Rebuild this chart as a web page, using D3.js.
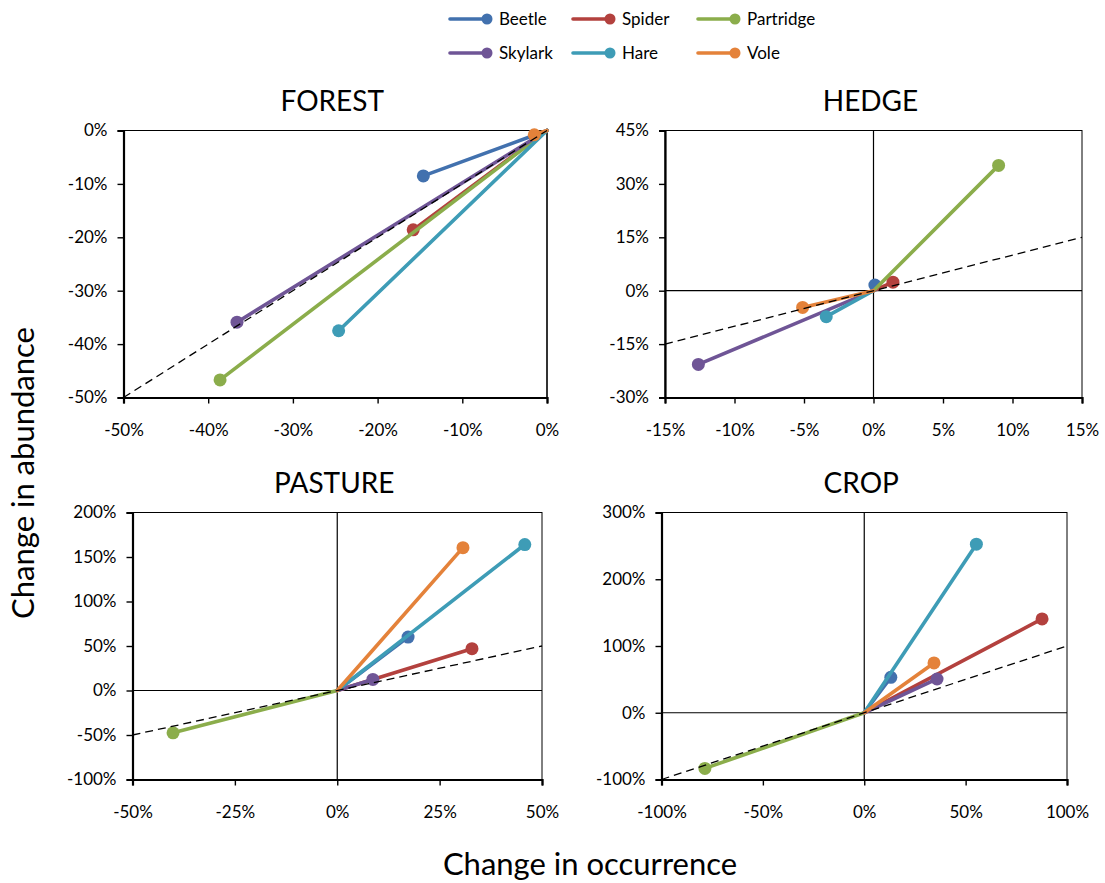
<!DOCTYPE html>
<html>
<head>
<meta charset="utf-8">
<script src="https://cdn.jsdelivr.net/npm/d3@7"></script>
<style>
  body { margin: 0; background: #fff; }
  svg { display: block; font-family: Lato, "Open Sans", sans-serif; }
</style>
</head>
<body>
<svg id="chart" width="1105" height="883"></svg>
<script>
// Species and their colours (series order = drawing order)
const species = ["Beetle", "Spider", "Partridge", "Skylark", "Hare", "Vole"];
const speciesColors = ["#4271AE", "#B3413E", "#8BAD4B", "#6F5596", "#3E9CB6", "#E4823A"];

// Change in occurrence (x, %) and change in abundance (y, %) per habitat
const forestOccurrence = [-14.6, -15.8, -38.6, -36.6, -24.6, -1.5];
const forestAbundance  = [-8.5, -18.6, -46.7, -35.9, -37.5, -0.8];

const hedgeOccurrence = [0.1, 1.4, 9.0, -12.6, -3.4, -5.1];
const hedgeAbundance  = [1.6, 2.4, 35.2, -20.7, -7.3, -4.7];

const pastureOccurrence = [17.3, 32.9, -40.1, 8.7, 45.8, 30.7];
const pastureAbundance  = [60, 47, -47.6, 12.4, 164, 160.5];

const cropOccurrence = [13.1, 87.7, -78.6, 35.9, 55.3, 34.4];
const cropAbundance  = [53, 140.5, -83.4, 50.6, 252.5, 74.6];

// Tick values
const forestXTicks = [-50, -40, -30, -20, -10, 0];
const forestYTicks = [-50, -40, -30, -20, -10, 0];
const hedgeXTicks = [-15, -10, -5, 0, 5, 10, 15];
const hedgeYTicks = [-30, -15, 0, 15, 30, 45];
const pastureXTicks = [-50, -25, 0, 25, 50];
const pastureYTicks = [-100, -50, 0, 50, 100, 150, 200];
const cropXTicks = [-100, -50, 0, 50, 100];
const cropYTicks = [-100, 0, 100, 200, 300];

const svg = d3.select("#chart");

// Panel layout (plot-area boxes)
const panels = [
  { title: "FOREST",  occ: forestOccurrence,  abund: forestAbundance,  xTicks: forestXTicks,  yTicks: forestYTicks,
    left: 123.5, right: 547, top: 130.5, bottom: 397.5 },
  { title: "HEDGE",   occ: hedgeOccurrence,   abund: hedgeAbundance,   xTicks: hedgeXTicks,   yTicks: hedgeYTicks,
    left: 665, right: 1082, top: 130.5, bottom: 397.5 },
  { title: "PASTURE", occ: pastureOccurrence, abund: pastureAbundance, xTicks: pastureXTicks, yTicks: pastureYTicks,
    left: 132.5, right: 542, top: 512.5, bottom: 779.5 },
  { title: "CROP",    occ: cropOccurrence,    abund: cropAbundance,    xTicks: cropXTicks,    yTicks: cropYTicks,
    left: 661.5, right: 1067, top: 512.5, bottom: 779.5 }
];

const pct = d => d + "%";

function drawPanel(p) {
  const xDomain = d3.extent(p.xTicks);
  const yDomain = d3.extent(p.yTicks);
  const x = d3.scaleLinear().domain(xDomain).range([p.left, p.right]);
  const y = d3.scaleLinear().domain(yDomain).range([p.bottom, p.top]);
  const g = svg.append("g");

  // plot-area frame
  g.append("rect")
    .attr("x", p.left).attr("y", p.top)
    .attr("width", p.right - p.left).attr("height", p.bottom - p.top)
    .attr("fill", "none").attr("stroke", "#000").attr("stroke-width", 1);

  // zero reference lines
  g.append("line")
    .attr("x1", x(0)).attr("x2", x(0)).attr("y1", p.top).attr("y2", p.bottom)
    .attr("stroke", "#000").attr("stroke-width", 1.2);
  g.append("line")
    .attr("x1", p.left).attr("x2", p.right).attr("y1", y(0)).attr("y2", y(0))
    .attr("stroke", "#000").attr("stroke-width", 1.2);

  // axes
  const xAxis = g.append("g")
    .attr("transform", `translate(0,${p.bottom})`)
    .call(d3.axisBottom(x).tickValues(p.xTicks).tickFormat(pct).tickSizeOuter(0).tickSize(6).tickPadding(20));
  const yAxis = g.append("g")
    .attr("transform", `translate(${p.left},0)`)
    .call(d3.axisLeft(y).tickValues(p.yTicks).tickFormat(pct).tickSizeOuter(0).tickSize(6).tickPadding(10));
  [xAxis, yAxis].forEach(a => {
    a.select(".domain").attr("stroke", "#000").attr("stroke-width", 2.2);
    a.selectAll(".tick line").attr("stroke", "#000").attr("stroke-width", 1.4);
    a.selectAll(".tick text").attr("fill", "#000").style("font-size", "17px").style("font-family", "Lato, sans-serif");
  });

  // species trajectories from the origin
  const line = d3.line().x(d => x(d[0])).y(d => y(d[1]));
  species.forEach((s, i) => {
    const pts = [[0, 0], [p.occ[i], p.abund[i]]];
    g.append("path")
      .attr("d", line(pts))
      .attr("fill", "none")
      .attr("stroke", speciesColors[i])
      .attr("stroke-width", 3.6)
      .attr("stroke-linecap", "round");
    g.append("circle")
      .attr("cx", x(p.occ[i])).attr("cy", y(p.abund[i]))
      .attr("r", 6.5)
      .attr("fill", speciesColors[i]);
  });

  // 1:1 dashed line
  const lo = Math.max(xDomain[0], yDomain[0]);
  const hi = Math.min(xDomain[1], yDomain[1]);
  g.append("path")
    .attr("d", line([[lo, lo], [hi, hi]]))
    .attr("fill", "none")
    .attr("stroke", "#000")
    .attr("stroke-width", 1.3)
    .attr("stroke-dasharray", "8,5");

  // panel title
  g.append("text")
    .attr("x", (p.left + p.right) / 2 - 3)
    .attr("y", p.top - 20)
    .attr("text-anchor", "middle")
    .style("font-size", "28px")
    .attr("fill", "#000")
    .text(p.title);
}

panels.forEach(drawPanel);

// legend (two rows of three)
const legendCols = [450, 573, 698];
const legendRows = [19, 53];
species.forEach((s, i) => {
  const lx = legendCols[i % 3];
  const ly = legendRows[Math.floor(i / 3)];
  const lg = svg.append("g").attr("transform", `translate(${lx},${ly})`);
  lg.append("line").attr("x1", 0).attr("x2", 37).attr("y1", 0).attr("y2", 0)
    .attr("stroke", speciesColors[i]).attr("stroke-width", 3.6).attr("stroke-linecap", "round");
  lg.append("circle").attr("cx", 37).attr("cy", 0).attr("r", 5.5).attr("fill", speciesColors[i]);
  lg.append("text").attr("x", 49).attr("y", 0).attr("dy", "0.35em")
    .style("font-size", "17px").attr("fill", "#000").text(s);
});

// shared axis titles
svg.append("text")
  .attr("transform", "translate(23,473) rotate(-90)")
  .attr("text-anchor", "middle").attr("dy", "0.35em")
  .style("font-size", "31px").attr("fill", "#000")
  .text("Change in abundance");
svg.append("text")
  .attr("x", 590).attr("y", 864)
  .attr("text-anchor", "middle").attr("dy", "0.35em")
  .style("font-size", "31px").attr("fill", "#000")
  .text("Change in occurrence");
</script>
</body>
</html>
